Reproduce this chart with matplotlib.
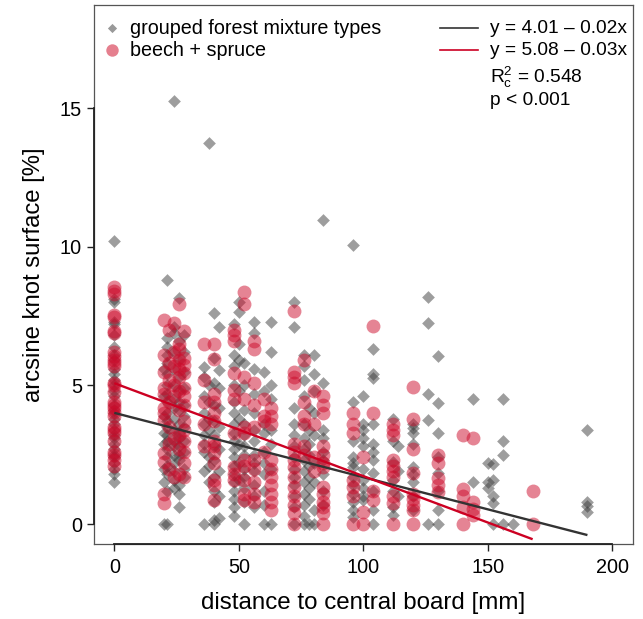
"""
Knot surface vs. distance to central board.
Scatter of two groups with fitted lines, R base-graphics look.
"""

import matplotlib
matplotlib.use('Agg')
import matplotlib.pyplot as plt
from matplotlib.transforms import blended_transform_factory

plt.rcParams['font.family'] = ['Liberation Sans', 'DejaVu Sans']
plt.rcParams['mathtext.fontset'] = 'custom'
plt.rcParams['mathtext.rm'] = 'Liberation Sans'
plt.rcParams['mathtext.it'] = 'Liberation Sans:italic'

# ── Data ─────────────────────────────────────────────────────────────────────
grey_dist = [0, 20, 21, 24, 26, 28, 36, 38, 40, 42, 48, 50, 52, 56, 60, 63,
             72, 76, 78, 80, 84, 96, 100, 104, 112, 114, 120, 126, 130, 144,
             150, 152, 156, 160, 190]
grey_vals = [
    [10.2, 8.1, 8.0, 7.3, 7.2, 6.8, 6.4, 6.1, 5.9, 5.6, 5.4, 5.2, 5.0, 4.8,
     4.6, 4.3, 4.1, 4.0, 3.8, 3.6, 3.4, 3.2, 3.1, 2.9, 2.7, 2.5, 2.4, 2.2,
     2.0, 1.8, 1.5],
    [5.6, 4.6, 3.9, 3.3, 2.9, 2.0, 1.5, 0.0],
    [8.8, 6.7, 6.4, 6.1, 5.8, 5.4, 5.0, 4.7, 4.4, 4.0, 3.7, 3.5, 3.2, 3.0,
     2.7, 2.4, 2.1, 1.8, 1.2, 0.0],
    [15.25, 7.1, 6.9, 6.2, 5.6, 5.0, 4.5, 4.2, 3.8, 3.4, 3.0, 2.8, 2.5, 2.2,
     1.9, 1.6, 1.3],
    [8.15, 6.6, 5.9, 5.3, 4.8, 4.4, 4.1, 3.6, 3.3, 3.1, 2.8, 2.5, 2.3, 1.4,
     1.1, 0.6],
    [6.8, 6.2, 5.5, 4.9, 4.3, 3.9, 3.5, 3.0, 2.6, 2.0, 1.7],
    [5.65, 5.3, 4.6, 4.0, 3.6, 3.2, 2.9, 2.6, 1.9, 0.0],
    [13.75, 5.0, 4.4, 3.8, 3.4, 2.4, 2.1, 1.5],
    [7.6, 6.0, 5.1, 4.3, 3.7, 3.2, 2.8, 2.3, 1.7, 1.2, 0.8, 0.15, 0.0],
    [7.1, 5.55, 4.9, 4.2, 3.5, 2.7, 1.9, 1.0, 0.2],
    [7.2, 6.1, 5.7, 5.0, 4.4, 4.0, 3.6, 3.3, 3.0, 2.7, 2.4, 2.1, 1.8, 1.5,
     1.2, 0.9, 0.6, 0.3],
    [8.0, 7.65, 6.5, 5.9, 4.8, 3.8, 2.9, 2.2, 1.6],
    [5.8, 5.0, 4.1, 3.6, 3.2, 2.8, 2.5, 2.0, 1.7, 1.3, 0.8, 0.0],
    [7.3, 6.9, 5.6, 4.7, 4.0, 3.4, 3.0, 2.5, 2.2, 1.9, 1.4, 1.0, 0.6],
    [5.5, 4.8, 3.6, 3.3, 2.6, 2.2, 1.8, 1.2, 0.7, 0.0],
    [7.3, 6.2, 5.0, 4.5, 3.4, 2.9, 2.0, 0.0],
    [8.0, 7.1, 4.2, 3.6, 3.2, 2.8, 2.4, 2.0, 1.7, 1.4, 1.0, 0.6, 0.0],
    [6.1, 5.7, 5.2, 4.6, 3.6, 3.1, 2.7, 2.3, 1.9, 1.5, 1.1, 0.7, 0.3, 0.0],
    [4.2, 3.4, 2.9, 2.5, 2.1, 1.7, 1.3, 0.9, 0.0],
    [6.1, 5.4, 4.8, 4.0, 3.2, 2.2, 1.5, 0.5, 0.0],
    [10.95, 5.1, 3.4, 3.1, 2.6, 2.3, 1.8, 1.2, 0.7],
    [10.05, 4.4, 3.0, 2.4, 2.2, 2.05, 1.7, 1.4, 1.1, 0.8, 0.5, 0.25],
    [4.6, 3.6, 3.4, 3.1, 2.8, 2.0, 1.6, 1.3, 1.0, 0.85],
    [6.3, 5.4, 5.25, 3.6, 2.9, 2.6, 2.3, 1.85, 1.2, 0.5, 0.0],
    [3.8, 3.0, 2.25, 1.6, 1.2, 0.6, 0.33],
    [2.8, 1.9, 1.0],
    [3.6, 3.45, 3.3, 2.9, 2.05, 1.8, 1.5, 1.0, 0.5],
    [8.2, 7.25, 4.7, 3.75, 0.0],
    [6.05, 4.35, 3.3, 2.4, 1.85, 1.2, 0.5, 0.0],
    [4.5, 1.5],
    [2.2, 1.5, 1.3],
    [2.15, 1.6, 1.0, 0.75, 0.0],
    [4.5, 3.0, 2.5, 0.0],
    [0.0],
    [3.4, 0.8, 0.65, 0.45],
]

red_dist = [0, 20, 22, 24, 26, 28, 36, 40, 48, 52, 56, 60, 63, 72, 76, 80,
            84, 96, 100, 104, 112, 120, 130, 140, 144, 168]
red_vals = [
    [8.55, 8.4, 8.3, 7.55, 7.45, 6.95, 6.9, 6.2, 6.05, 5.9, 5.8, 5.7, 5.1,
     5.0, 4.75, 4.4, 4.3, 4.2, 4.05, 3.9, 3.5, 3.4, 3.3, 3.0, 2.6, 2.5, 2.3,
     2.1],
    [7.35, 6.1, 5.5, 4.9, 4.7, 4.2, 4.0, 3.75, 2.55, 2.25, 1.1, 0.75],
    [7.0, 5.8, 5.2, 4.4, 3.5, 2.9, 2.0],
    [7.25, 6.2, 5.7, 5.0, 4.6, 3.1, 1.7],
    [7.93, 6.5, 6.3, 5.9, 5.6, 5.3, 4.8, 4.1, 3.2, 2.7, 1.8],
    [6.96, 6.0, 5.75, 5.45, 4.9, 4.6, 4.3, 3.7, 3.4, 3.0, 2.6, 2.2, 1.7],
    [6.5, 5.2, 4.4, 3.6, 2.8],
    [6.5, 5.95, 4.7, 4.4, 4.0, 3.7, 3.0, 2.8, 2.55, 2.2, 1.6, 1.4, 0.85],
    [7.0, 6.8, 6.6, 5.45, 4.85, 4.5, 3.3, 2.05, 1.8, 1.6],
    [8.37, 7.95, 5.3, 4.5, 3.5, 3.3, 2.3, 2.1, 1.6, 1.1, 0.85],
    [6.6, 6.3, 5.1, 4.3, 3.5, 2.3, 2.0, 1.5, 1.1, 0.8],
    [4.5, 3.9, 3.7, 2.6],
    [4.2, 3.9, 3.6, 2.3, 2.0, 1.7, 1.4, 1.1, 0.8, 0.5],
    [7.7, 5.5, 5.3, 5.1, 2.9, 2.6, 2.3, 2.05, 1.7, 1.35, 1.0, 0.7, 0.4, 0.0],
    [5.9, 4.4, 3.9, 3.6, 2.8, 2.5],
    [4.8, 3.6, 2.4, 1.9],
    [4.6, 4.3, 4.0, 2.8, 2.5, 2.2, 2.05, 1.35, 1.1, 0.8, 0.6, 0.4, 0.0],
    [4.0, 3.6, 3.3, 1.6, 1.35, 1.0, 0.0],
    [2.4, 0.43, 0.0],
    [7.15, 4.0, 1.2, 0.85],
    [3.6, 3.4, 3.2, 2.3, 2.1, 1.9, 1.7, 1.0, 0.75, 0.0],
    [4.95, 3.8, 2.7, 1.85, 1.1, 0.9, 0.7, 0.5, 0.0],
    [2.5, 2.2, 1.65, 1.4, 1.15],
    [3.2, 1.25, 1.0, 0.6, 0.0],
    [3.1, 0.8, 0.55, 0.33],
    [1.2, 0.0],
]

# fitted lines: intercept, slope, x-range
fit_grey = (4.01, -0.0232, 0, 190)
fit_red = (5.08, -0.0335, 0, 168)

x_ticks = [0, 50, 100, 150, 200]
y_ticks = [0, 5, 10, 15]

# ── Colours ───────────────────────────────────────────────────────────────────
GREY = '#3c3c3c'
RED = '#cc0a2a'

# ── Figure ────────────────────────────────────────────────────────────────────
fig = plt.figure(figsize=(6.43, 6.19), dpi=100)
ax = fig.add_axes([94 / 643, 75 / 619, 539 / 643, 539 / 619])

gx = [d for d, vals in zip(grey_dist, grey_vals) for _ in vals]
gy = [v for vals in grey_vals for v in vals]
rx = [d for d, vals in zip(red_dist, red_vals) for _ in vals]
ry = [v for vals in red_vals for v in vals]

ax.scatter(gx, gy, marker='D', s=42, color=GREY, alpha=0.5,
           linewidths=0, zorder=3)
ax.scatter(rx, ry, marker='o', s=100, color=RED, alpha=0.5,
           linewidths=0, zorder=4)

for (b0, b1, x0, x1), col in [(fit_grey, '#333333'), (fit_red, '#cc0022')]:
    ax.plot([x0, x1], [b0 + b1 * x0, b0 + b1 * x1], color=col, lw=1.7,
            zorder=5, solid_capstyle='butt')

ax.set_xlim(-8.15, 208.3)
ax.set_ylim(-0.72, 18.72)

# ── Axes, R style ─────────────────────────────────────────────────────────────
for sp in ax.spines.values():
    sp.set_color('#555555')
    sp.set_linewidth(0.9)
ax.set_xticks(x_ticks)
ax.set_yticks(y_ticks)
ax.tick_params(direction='out', length=5.2, width=1.0, color='#222222',
               labelsize=14.3, pad=3.5)
ax.tick_params(axis='x', pad=5)

tb = blended_transform_factory(ax.transData, ax.transAxes)
ax.plot([0, 200], [0, 0], transform=tb, color='#222222', lw=1.3,
        clip_on=False, zorder=6)
tl = blended_transform_factory(ax.transAxes, ax.transData)
ax.plot([0, 0], [0, 15], transform=tl, color='#222222', lw=1.3,
        clip_on=False, zorder=6)

ax.set_xlabel('distance to central board [mm]', fontsize=17.4, labelpad=11)
ax.set_ylabel('arcsine knot surface [%]', fontsize=17.2, labelpad=11)

# ── Legend (hand placed) ──────────────────────────────────────────────────────
ax.scatter([0.034], [0.957], marker='D', s=22, color='#999999',
           linewidths=0, transform=ax.transAxes, clip_on=False, zorder=7)
ax.scatter([0.034], [0.916], marker='o', s=80, color='#e57f8e',
           linewidths=0, transform=ax.transAxes, clip_on=False, zorder=7)
ax.text(0.067, 0.957, 'grouped forest mixture types', transform=ax.transAxes,
        fontsize=14.2, va='center', ha='left')
ax.text(0.067, 0.916, 'beech + spruce', transform=ax.transAxes,
        fontsize=14.2, va='center', ha='left')

ax.plot([0.642, 0.712], [0.957, 0.957], transform=ax.transAxes,
        color='#333333', lw=1.2)
ax.plot([0.642, 0.712], [0.916, 0.916], transform=ax.transAxes,
        color='#cc0022', lw=1.2)
ax.text(0.735, 0.957, 'y = 4.01 \u2013 0.02x', transform=ax.transAxes,
        fontsize=13.8, va='center', ha='left')
ax.text(0.735, 0.916, 'y = 5.08 \u2013 0.03x', transform=ax.transAxes,
        fontsize=13.8, va='center', ha='left')
ax.text(0.735, 0.866, r'R$_\mathrm{c}^\mathrm{2}$ = 0.548',
        transform=ax.transAxes, fontsize=13.8, va='center', ha='left')
ax.text(0.735, 0.822, 'p < 0.001', transform=ax.transAxes,
        fontsize=13.8, va='center', ha='left')

plt.savefig('out.png', dpi=100, facecolor='white')
plt.close()
